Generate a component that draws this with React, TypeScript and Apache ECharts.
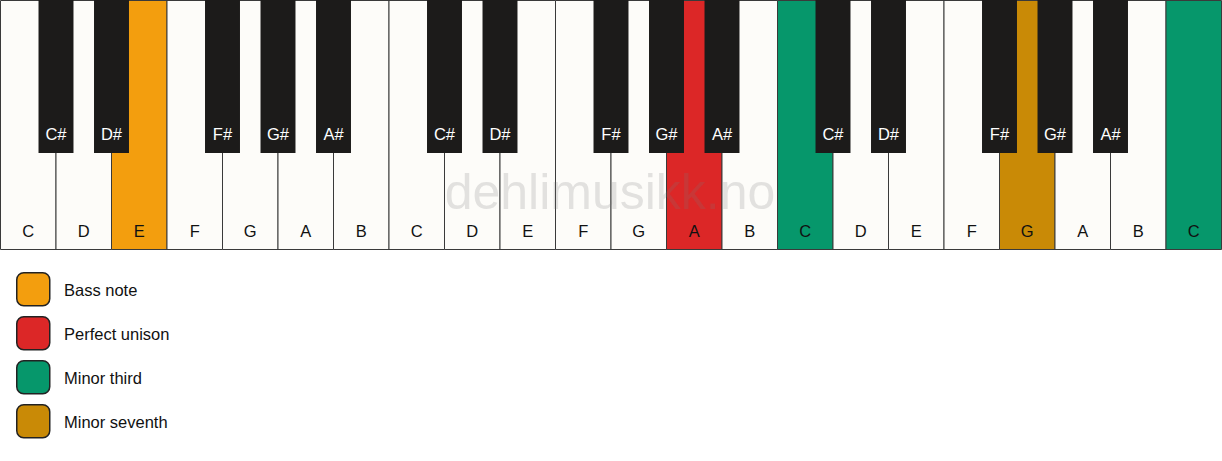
import React, { useEffect, useRef } from "react";
import * as echarts from "echarts";

const whiteNotes = [
  "C", "D", "E", "F", "G", "A", "B",
  "C", "D", "E", "F", "G", "A", "B",
  "C", "D", "E", "F", "G", "A", "B", "C",
];
// black key position = boundary index between white keys
const blackPositions = [1, 2, 4, 5, 6, 8, 9, 11, 12, 13, 15, 16, 18, 19, 20];
const blackNotes = [
  "C#", "D#", "F#", "G#", "A#",
  "C#", "D#", "F#", "G#", "A#",
  "C#", "D#", "F#", "G#", "A#",
];
const highlightKeys = [2, 12, 14, 18, 21];
const highlightRoles = ["Bass note", "Perfect unison", "Minor third", "Minor seventh", "Minor third"];
const legendLabels = ["Bass note", "Perfect unison", "Minor third", "Minor seventh"];
const legendColors = ["#F39E0E", "#DC2727", "#06976B", "#C98A06"];

const FONT = "'Liberation Sans', Arial, Helvetica, sans-serif";
const WHITE_FILL = "#FDFCF9";
const LINE = "#3A3A3A";
const BLACK_FILL = "#1C1B1A";
const BLACK_WIDTH = 0.63;
const BLACK_HEIGHT = 0.612;
const FS = 16.5;

function roleColor(role: string): string {
  const i = legendLabels.indexOf(role);
  return i >= 0 ? legendColors[i] : WHITE_FILL;
}

export default function App() {
  const ref = useRef<HTMLDivElement>(null);
  useEffect(() => {
    if (!ref.current) return;
    const chart = echarts.init(ref.current, null, { renderer: "svg" });

    const whiteData = whiteNotes.map((n, i) => {
      const h = highlightKeys.indexOf(i);
      return [i, n, h >= 0 ? roleColor(highlightRoles[h]) : WHITE_FILL];
    });
    const blackData = blackPositions.map((p, i) => [p, blackNotes[i]]);

    const legendGraphics: any[] = [];
    legendLabels.forEach((label, i) => {
      const y = 272 + i * 44;
      legendGraphics.push({
        type: "rect",
        left: 16,
        top: y,
        shape: { width: 33, height: 33, r: 7 },
        style: { fill: legendColors[i], stroke: "#222", lineWidth: 1.5 },
      });
      legendGraphics.push({
        type: "text",
        x: 64,
        y: y + 18,
        style: { text: label, fontSize: FS, fontFamily: FONT, fill: "#111", verticalAlign: "middle" },
      });
    });

    chart.setOption({
      animation: false,
      grid: { left: 0.5, top: 0.5, width: 1221, height: 249 },
      xAxis: { type: "value", min: 0, max: 22, show: false },
      yAxis: { type: "value", min: 0, max: 1, inverse: true, show: false },
      series: [
        {
          type: "custom",
          z: 1,
          data: whiteData,
          renderItem: (params: any, api: any) => {
            const i = api.value(0);
            const p0 = api.coord([i, 0]);
            const p1 = api.coord([i + 1, 1]);
            const lbl = api.coord([i + 0.5, 0.925]);
            return {
              type: "group",
              children: [
                {
                  type: "rect",
                  shape: { x: p0[0], y: p0[1], width: p1[0] - p0[0], height: p1[1] - p0[1] },
                  style: { fill: whiteData[params.dataIndex][2], stroke: LINE, lineWidth: 1 },
                },
                {
                  type: "text",
                  style: {
                    text: whiteData[params.dataIndex][1],
                    x: lbl[0],
                    y: lbl[1],
                    align: "center",
                    verticalAlign: "middle",
                    fontSize: FS,
                    fontFamily: FONT,
                    fill: "#111",
                  },
                },
              ],
            };
          },
        },
        {
          type: "custom",
          z: 3,
          data: blackData,
          renderItem: (params: any, api: any) => {
            const p = api.value(0);
            const p0 = api.coord([p - BLACK_WIDTH / 2, 0]);
            const p1 = api.coord([p + BLACK_WIDTH / 2, BLACK_HEIGHT]);
            const lbl = api.coord([p, 0.536]);
            return {
              type: "group",
              children: [
                {
                  type: "rect",
                  shape: { x: p0[0], y: p0[1] - 1, width: p1[0] - p0[0], height: p1[1] - p0[1] + 1 },
                  style: { fill: BLACK_FILL },
                },
                {
                  type: "text",
                  style: {
                    text: blackData[params.dataIndex][1],
                    x: lbl[0],
                    y: lbl[1],
                    align: "center",
                    verticalAlign: "middle",
                    fontSize: FS,
                    fontFamily: FONT,
                    fill: "#FFFFFF",
                  },
                },
              ],
            };
          },
        },
      ],
      graphic: [
        {
          type: "text",
          z: 100,
          x: 610,
          y: 192,
          style: {
            text: "dehlimusikk.no",
            align: "center",
            verticalAlign: "middle",
            fontSize: 50,
            fontFamily: FONT,
            fill: "rgba(120,120,120,0.2)",
          },
        },
        ...legendGraphics,
      ],
    });
    return () => chart.dispose();
  }, []);
  return (
    <div
      ref={ref}
      style={{ position: "fixed", left: 0, top: 0, width: 1222, height: 461, background: "#fff" }}
    />
  );
}
